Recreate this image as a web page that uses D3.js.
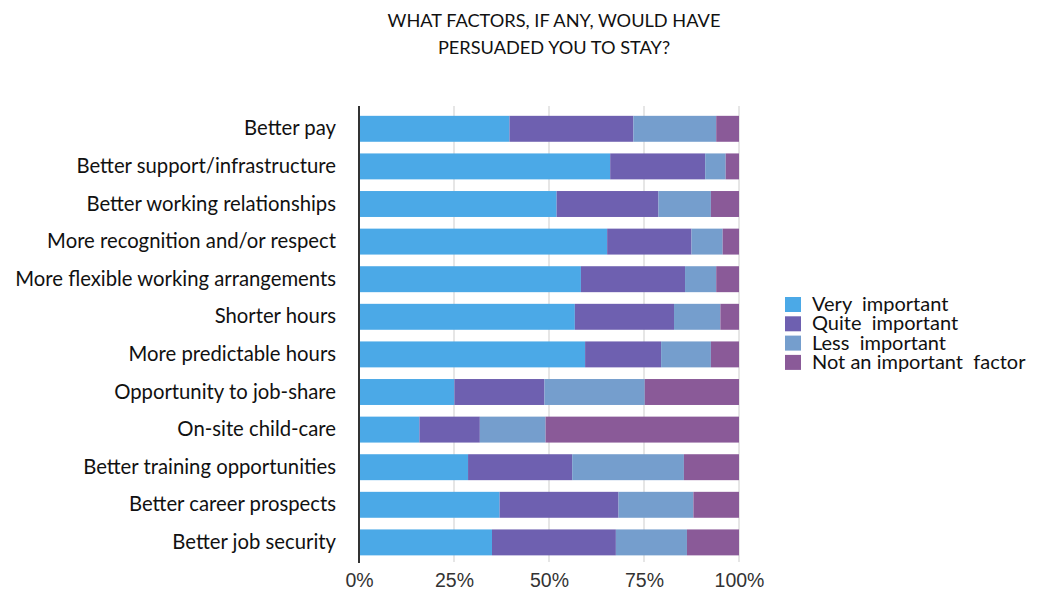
<!DOCTYPE html>
<html><head><meta charset="utf-8">
<script src="https://cdn.jsdelivr.net/npm/d3@7"></script>
<style>html,body{margin:0;padding:0;background:#fff;}svg{display:block;}</style>
</head><body>
<svg id="chart" width="1042" height="594"></svg>
<script>
const categories = ["Better pay","Better support/infrastructure","Better working relationships","More recognition and/or respect","More flexible working arrangements","Shorter hours","More predictable hours","Opportunity to job-share","On-site child-care","Better training opportunities","Better career prospects","Better job security"];
const seriesNames = ["Very  important","Quite  important","Less  important","Not an important  factor"];
const veryImportant  = [39.6,66.1,52.0,65.3,58.4,56.8,59.5,25.1,15.9,28.7,37.0,35.0];
const quiteImportant = [32.6,25.0,26.8,22.2,27.4,26.1,20.0,23.7,15.9,27.4,31.3,32.6];
const lessImportant  = [21.8,5.4,13.8,8.2,8.2,12.2,13.1,26.4,17.3,29.4,19.7,18.7];
const notImportant   = [6.0,3.5,7.4,4.3,6.0,4.9,7.4,24.8,50.9,14.5,12.0,13.7];
const tickValues = [0,25,50,75,100];
const tickLabels = ["0%","25%","50%","75%","100%"];
const titleLines = ["WHAT FACTORS, IF ANY, WOULD HAVE","PERSUADED YOU TO STAY?"];
const colors = ["#4BA9E7","#6E60B0","#759ECD","#8A5A98"];

const svg = d3.select("#chart");
const x = d3.scaleLinear().domain([0,100]).range([359,739]);
const y = d3.scaleBand().domain(categories).range([110,561.2]).paddingInner(0.31).paddingOuter(0.155);

const rows = categories.map((c,i)=>({cat:c, vals:[veryImportant[i],quiteImportant[i],lessImportant[i],notImportant[i]]}));
const stack = d3.stack().keys([0,1,2,3]).value((d,k)=>d.vals[k]);
const stacked = stack(rows);

// gridlines
svg.append("g").selectAll("line").data(tickValues.slice(1)).join("line")
  .attr("x1",d=>x(d)).attr("x2",d=>x(d)).attr("y1",106).attr("y2",562)
  .attr("stroke","#d6d6d6").attr("stroke-width",1.2);

// bars
svg.append("g").selectAll("g").data(stacked).join("g")
  .attr("fill",(d,i)=>colors[i])
  .selectAll("rect").data(d=>d).join("rect")
  .attr("x",d=>x(d[0])).attr("width",d=>x(d[1])-x(d[0]))
  .attr("y",d=>y(d.data.cat)).attr("height",y.bandwidth());

// left axis line
svg.append("line").attr("x1",359).attr("x2",359).attr("y1",106).attr("y2",563)
  .attr("stroke","#333").attr("stroke-width",2);

// category labels
const yAxis = d3.axisLeft(y).tickSize(0).tickPadding(0);
const ya = svg.append("g").attr("transform","translate(336,0)").call(yAxis);
ya.select(".domain").remove();
ya.selectAll("text").attr("font-family","Lato, 'Open Sans', sans-serif").attr("font-size",20.3).attr("fill","#111");

// x tick labels
const xAxis = d3.axisBottom(x).tickValues(tickValues).tickFormat((d,i)=>tickLabels[i]).tickSize(0).tickPadding(0);
const xa = svg.append("g").attr("transform","translate(0,573)").call(xAxis);
xa.select(".domain").remove();
xa.selectAll("text").attr("font-family","'Liberation Sans', Arial, sans-serif").attr("font-size",19.5).attr("fill","#333");

// title
svg.append("g").selectAll("text").data(titleLines).join("text")
  .attr("x",554).attr("y",(d,i)=>26.5+i*27).attr("text-anchor","middle")
  .attr("font-family","Lato, 'Open Sans', sans-serif").attr("font-size",18.2).attr("fill","#111").text(d=>d);

// legend
const lg = svg.append("g").selectAll("g").data(seriesNames).join("g")
  .attr("transform",(d,i)=>`translate(785,${297+i*19.3})`);
lg.append("rect").attr("width",16).attr("height",15).attr("fill",(d,i)=>colors[i]);
lg.append("text").attr("x",27).attr("y",14).attr("xml:space","preserve").style("white-space","pre")
  .attr("font-family","Lato, 'Open Sans', sans-serif").attr("font-size",20).attr("fill","#111").text(d=>d);
</script>
</body></html>
